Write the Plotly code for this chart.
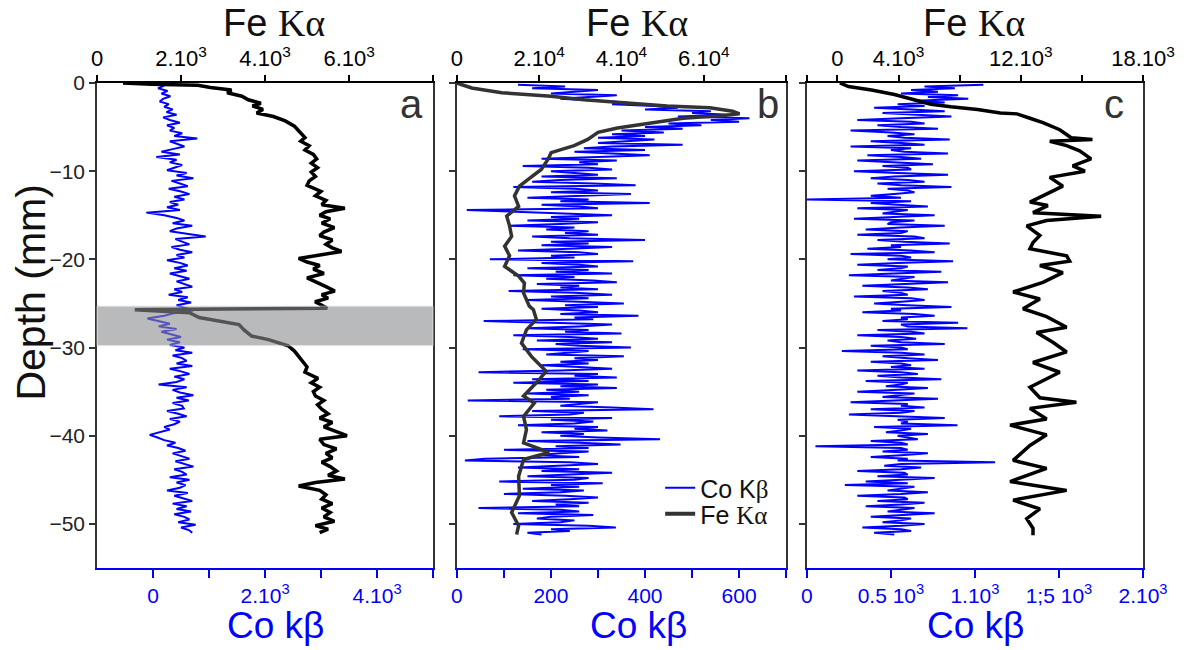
import numpy as np
import plotly.graph_objects as go

# ---------------- data ----------------
# Panel a : Fe K-alpha (top axis) and Co K-beta (bottom axis) versus depth (mm)
fe_a_depth = [0, -0.15, -0.25, -0.5, -0.8, -1.1, -1.5, -1.9, -2.3, -2.6, -3.0, -3.4, -3.8, -4.3, -4.9,
              -5.6, -6.2, -6.6, -7.1, -7.6, -8.1, -8.6, -9.1, -9.6, -10.1, -10.6, -11.1, -11.6, -12.3,
              -12.8, -13.3, -13.8, -14.2, -14.6, -15.0, -15.4, -15.9, -16.4, -16.9, -17.3, -17.8, -18.3,
              -18.7, -19.1, -19.5, -19.9, -20.3, -20.7, -21.1, -21.6, -22.1, -22.6, -23.1, -23.6, -24.0,
              -24.4, -24.8, -25.2, -25.55, -25.7, -26.05, -26.6, -27.0, -27.4, -28.0, -28.7, -29.1, -29.6,
              -29.8, -30.4, -31.0, -31.6, -32.2, -32.8, -33.5, -34.0, -34.5, -35.0, -35.5, -36.0, -36.5,
              -37.0, -37.5, -38.0, -38.5, -39.0, -39.5, -40.0, -40.4, -41.0, -41.5, -42.0, -42.5, -43.0,
              -43.5, -44.0, -44.5, -44.9, -45.3, -45.7, -46.2, -46.7, -47.2, -47.7, -48.2, -48.7, -49.2,
              -49.7, -50.2, -50.6, -51.0]
fe_a = [620, 1300, 2400, 2700, 3200, 3100, 3450, 3600, 3900, 3700, 3950, 3800, 4200, 4480, 4700,
        4850, 4950, 4850, 5050, 4950, 5150, 5230, 5100, 5250, 5100, 5200, 5050, 5000, 5330,
        5200, 5450, 5350, 5900, 5450, 5300, 5550, 5350, 5650, 5400, 5300, 5600, 5450,
        5600, 5820, 5300, 4800, 5000, 5300, 5150, 5400, 5000, 5250, 5450, 5660, 5350,
        5500, 5190, 5350, 5480, 900, 2200, 2430, 2900, 3380, 3500, 3680, 4080, 4390,
        4550, 4700, 4800, 4900, 5000, 4950, 5260, 5100, 5300, 5150, 5200, 5400, 5250,
        5350, 5500, 5300, 5600, 5400, 5700, 5950, 5300, 5400, 5700, 5450, 5600, 5350,
        5550, 5700, 5500, 5900, 5200, 4800, 5300, 5450, 5350, 5600, 5350, 5550, 5400,
        5650, 5200, 5500, 5300]

co_a_depth = list(np.round(np.arange(0, -51.01, -0.3), 2))
co_a = [0, 200, 90, 260, 150, 310, 180, 120, 280, 200,
        350, 240, 420, 180, 300, 480, 250, 380, 300, 520,
        380, 790, 300, 440, 560, 350, 150, 480, 60, 420,
        300, 520, 380, 250, 600, 420, 720, 330, 480, 620,
        280, 500, 650, 380, 560, 300, 450, 250, 480, -120,
        200, 420, 560, 350, 700, 420, 300, 620, 940, 400,
        520, 650, 330, 480, 700, 420, 560, 250, 480, 620,
        380, 600, 300, 480, 650, 420, 560, 700, 380, 520,
        280, 620, 450, 680, 420, 560, 720, 380, 200, -100,
        120, 300, 100, 420, 150, 350, 500, 250, 480, 300,
        560, 400, 700, 350, 520, 600, 420, 700, 300, 500,
        650, 380, 560, 420, 100, 600, 350, 480, 720, 420,
        640, 350, 520, 550, 250, 450, 600, 300, 480, 380,
        200, 300, 100, -60, 80, 200, 400, 250, 450, 580,
        350, 520, 650, 400, 560, 720, 380, 520, 600, 300,
        650, 420, 580, 480, 250, 620, 380, 520, 700, 350,
        600, 420, 680, 380, 560, 650, 450, 760, 500, 640,
        700]

# Panel b
fe_b_depth = [0, -0.57, -1.1, -1.5, -1.9, -2.3, -2.6, -2.8, -3.2, -3.5, -3.7, -4.0, -4.5, -5.1, -5.6,
              -6.4, -7.1, -7.9, -8.6, -9.8, -10.9, -11.7, -12.8, -14.0, -15.1, -16.2, -17.4, -18.5,
              -19.6, -20.8, -21.9, -22.7, -23.8, -25.3, -25.7, -26.8, -28.0, -29.5, -31.0, -32.7,
              -34.0, -35.5, -36.3, -37.8, -39.3, -40.8, -41.9, -42.7, -44.6, -46.8, -48.7, -50.2, -51.2]
fe_b = [0, 3600, 10900, 22900, 30900, 42900, 51100, 61500, 67000, 68700, 64600, 55000, 47000, 39000, 34300,
        31800, 28500, 22900, 22200, 20500, 17400, 15200, 14000, 15000, 12100, 12800, 13300, 11600,
        12800, 11600, 15000, 16400, 16200, 17600, 18600, 19300, 16900, 15700, 18100, 21700,
        19300, 16200, 18800, 16200, 16900, 16200, 22400, 16200, 15000, 15200, 13300, 15000, 14500]

co_b_depth = list(np.round(np.arange(-0.2, -51.21, -0.2), 2))
co_b = [130, 230, 160, 300, 250, 200, 340, 280, 220, 300, 360, 330, 420, 470, 400, 540,
        500, 580, 470, 622, 540, 600, 450, 520, 400, 480, 350, 440, 330, 400, 300, 420,
        360, 300, 480, 330, 270, 400, 250, 350, 410, 300, 180, 340, 260, 300, 140, 280,
        330, 200, 260, 300, 180, 340, 220, 160, 290, 380, 120, 250, 300, 200, 370, 240,
        150, 280, 220, 410, 180, 260, 300, 21, 120, 250, 330, 200, 260, 150, 300, 220,
        110, 250, 190, 280, 230, 300, 160, 240, 400, 200, 280, 180, 330, 240, 130, 260,
        300, 200, 250, 70, 375, 180, 260, 300, 150, 280, 210, 330, 120, 250, 190, 290,
        340, 170, 260, 220, 300, 110, 250, 330, 200, 280, 150, 260, 355, 230, 300, 180,
        260, 300, 220, 386, 250, 290, 57, 200, 330, 260, 150, 280, 230, 350, 120, 240,
        300, 170, 330, 210, 260, 370, 140, 280, 230, 190, 355, 250, 300, 220, 280, 180,
        260, 330, 220, 46, 300, 250, 340, 160, 280, 120, 300, 220, 340, 190, 260, 150,
        280, 200, 240, 23, 300, 260, 220, 330, 418, 160, 270, 240, 90, 330, 200, 290,
        250, 130, 300, 250, 320, 180, 270, 220, 300, 432, 150, 260, 348, 210, 280, 100,
        280, 220, 170, 260, 60, 17, 240, 300, 200, 130, 260, 180, 330, 220, 150, 280,
        250, 90, 310, 200, 260, 140, 270, 220, 100, 230, 300, 240, 160, 280, 210, 260,
        46, 220, 260, 130, 290, 200, 170, 250, 220, 120, 280, 338, 200, 240, 150, 180]

# Panel c
fe_c_depth = [0, -0.4, -0.8, -1.3, -1.9, -2.4, -2.7, -3.0, -3.4, -3.5, -4.0, -4.5, -5.3, -5.9, -6.2,
              -6.4, -6.6, -7.1, -7.7, -8.6, -9.4, -10.0, -10.7, -11.7, -12.6, -13.5, -13.9, -14.7,
              -15.1, -15.6, -16.2, -17.3, -18.1, -18.8, -19.6, -20.2, -20.7, -21.5, -22.6, -23.7,
              -24.5, -25.6, -26.5, -27.7, -28.3, -29.4, -30.5, -31.7, -32.8, -34.5, -35.7, -36.2,
              -36.9, -38.1, -38.8, -39.9, -41.1, -42.8, -43.7, -45.2, -46.2, -47.3, -48.3, -49.4,
              -50.5, -51.3]
fe_c = [160, 720, 2230, 3730, 5020, 6120, 7420, 9170, 10660, 11750, 12600, 13450, 14550, 14990, 15300,
        16690, 13900, 15000, 15850, 16600, 15400, 16200, 13900, 14750, 13690, 12600, 13770, 12800,
        17260, 13690, 12390, 13250, 12800, 12600, 15000, 15200, 13250, 14750, 13450, 11500,
        13250, 12150, 13690, 15000, 13040, 14100, 15000, 12800, 14550, 12600, 13250, 15640,
        12600, 13690, 11300, 13690, 12600, 11500, 13690, 11300, 15000, 11500, 13250, 12390,
        12800, 12800]

co_c_depth = list(np.round(np.arange(-0.2, -51.21, -0.2), 2))
co_c = [1050, 700, 880, 620, 780, 560, 900, 720, 960, 640, 820, 540, 700, 400, 620, 820,
        450, 700, 860, 560, 300, 620, 700, 420, 560, 780, 260, 500, 640, 480, 580, 850,
        380, 560, 700, 260, 620, 500, 580, 840, 360, 560, 680, 300, 520, 750, 450, 600,
        620, 280, 540, 840, 520, 380, 600, 700, 420, 560, 860, 480, 600, 640, 520, 380,
        560, 0, 620, 380, 540, 720, 300, 600, 520, 450, 760, 560, 280, 640, 500, 480,
        820, 560, 350, 600, 560, 300, 640, 700, 420, 580, 850, 500, 560, 360, 620, 760,
        260, 560, 620, 480, 870, 540, 300, 600, 560, 420, 800, 520, 250, 640, 560, 500,
        840, 580, 330, 600, 720, 450, 560, 600, 280, 620, 700, 560, 400, 600, 860, 500,
        560, 330, 640, 760, 560, 600, 450, 900, 560, 600, 955, 420, 620, 700, 300, 560,
        650, 480, 560, 820, 380, 560, 600, 208, 560, 700, 450, 600, 780, 380, 560, 620,
        500, 700, 300, 560, 660, 420, 560, 800, 350, 600, 560, 470, 720, 540, 300, 640,
        560, 450, 780, 560, 260, 600, 560, 700, 380, 640, 560, 250, 600, 820, 540, 600,
        560, 896, 400, 620, 560, 470, 720, 540, 600, 660, 380, 560, 600, 51, 560, 600,
        450, 720, 560, 380, 600, 540, 1120, 560, 460, 680, 560, 300, 580, 600, 420, 760,
        560, 350, 600, 226, 640, 560, 480, 720, 560, 300, 580, 600, 420, 700, 560, 350,
        640, 560, 480, 760, 560, 380, 620, 560, 450, 700, 560, 330, 560, 620, 400, 520]

band_depth = [-25.3, -29.8]

# ---------------- style ----------------
SANS = "Liberation Sans, Arial, sans-serif"
BLUE = "#0000ff"

fig = go.Figure()

def blue(x, y, xa, ya):
    fig.add_trace(go.Scatter(x=x, y=y, xaxis=xa, yaxis=ya, mode="lines",
                             line=dict(color=BLUE, width=2), showlegend=False, hoverinfo="skip"))

def black(x, y, xa, ya, color="#000000"):
    fig.add_trace(go.Scatter(x=x, y=y, xaxis=xa, yaxis=ya, mode="lines",
                             line=dict(color=color, width=3.5), showlegend=False, hoverinfo="skip"))

blue(co_a, co_a_depth, "x", "y")
black(fe_a, fe_a_depth, "x2", "y")
blue(co_b, co_b_depth, "x3", "y2")
black(fe_b, fe_b_depth, "x4", "y2", "#333333")
blue(co_c, co_c_depth, "x5", "y3")
black(fe_c, fe_c_depth, "x6", "y3")

# legend entries (two single-item legends so their spacing can match)
fig.add_trace(go.Scatter(x=[None], y=[None], xaxis="x3", yaxis="y2", mode="lines",
                         line=dict(color=BLUE, width=2), legend="legend",
                         name="Co K<span style=\"font-family:'Liberation Serif'\">β</span>"))
fig.add_trace(go.Scatter(x=[None], y=[None], xaxis="x3", yaxis="y2", mode="lines",
                         line=dict(color="#333333", width=4), legend="legend2",
                         name="Fe <span style=\"font-family:'Liberation Serif'\">Kα</span>"))

# full-window figure (page body margin removed below); plot area 97..1152 x 83..568
W, H = 1187, 650
PL, PR, PT, PB = 97, 1152, 83, 568
L, T, R, B = PL, PT, W - PR, H - PB
pw = PR - PL
ph = PB - PT

def px(x):
    return (x - PL) / pw

def py(y):
    return (PB - y) / ph

dom_a = [0, px(436)]
dom_b = [px(460), px(792)]
dom_c = [px(813), 1]

yrange = [-55, 0]
ytick = dict(tickvals=[0, -10, -20, -30, -40, -50], ticks="outside", ticklen=6, tickwidth=1.5,
             tickcolor="#333", showline=True, linecolor="#333", linewidth=1.5, mirror=True,
             range=yrange, showgrid=False, zeroline=False)

sup3 = "<sup>3</sup>"
sup4 = "<sup>4</sup>"

def top_axis(dom, rng, vals, texts, anchor, overlay):
    return dict(domain=dom, range=rng, side="top", overlaying=overlay, anchor=anchor,
                tickvals=vals, ticktext=texts, ticks="outside", ticklen=6, tickwidth=1.5,
                tickcolor="#000", showline=True, linecolor="#000", linewidth=1.5,
                showgrid=False, zeroline=False, tickfont=dict(family=SANS, size=22, color="#000"))

def bot_axis(dom, rng, vals, texts, anchor):
    return dict(domain=dom, range=rng, side="bottom", anchor=anchor,
                tickvals=vals, ticktext=texts, ticks="outside", ticklen=8, tickwidth=1.5,
                tickcolor=BLUE, showline=True, linecolor=BLUE, linewidth=2,
                showgrid=False, zeroline=False, tickfont=dict(family=SANS, size=21, color=BLUE))

leg_common = dict(xanchor="left", yanchor="middle", bgcolor="rgba(0,0,0,0)",
                  font=dict(family=SANS, size=25, color="#111"), borderwidth=0)

fig.update_layout(
    width=W, height=H,
    margin=dict(l=L, r=R, t=T, b=B),
    paper_bgcolor="white", plot_bgcolor="white",
    font=dict(family=SANS, color="#222"),
    xaxis=bot_axis(dom_a, [-1000, 5000], [0, 1000, 2000, 3000, 4000, 5000],
                   ["0", "", "2.10" + sup3, "", "4.10" + sup3, ""], "y"),
    xaxis2=top_axis(dom_a, [0, 8000], [0, 2000, 4000, 6000, 8000],
                    ["0", "2.10" + sup3, "4.10" + sup3, "6.10" + sup3, ""], "y", "x"),
    xaxis3=bot_axis(dom_b, [0, 700], [0, 100, 200, 300, 400, 500, 600, 700],
                    ["0", "", "200", "", "400", "", "600", ""], "y2"),
    xaxis4=top_axis(dom_b, [0, 80000], [0, 20000, 40000, 60000, 80000],
                    ["0", "2.10" + sup4, "4.10" + sup4, "6.10" + sup4, ""], "y2", "x3"),
    xaxis5=bot_axis(dom_c, [0, 2000], [0, 500, 1000, 1500, 2000],
                    ["0", "0.5 10" + sup3, "1.10" + sup3, "1;5 10" + sup3, "2.10" + sup3], "y3"),
    xaxis6=top_axis(dom_c, [-2000, 20000], [-2000, 0, 4000, 8000, 12000, 16000, 20000],
                    ["", "0", "4.10" + sup3, "", "12.10" + sup3, "", "18.10" + sup3], "y3", "x5"),
    yaxis=dict(anchor="x", domain=[0, 1], showticklabels=True,
               tickfont=dict(family=SANS, size=21, color="#222"), **ytick),
    yaxis2=dict(anchor="x3", domain=[0, 1], showticklabels=False, **ytick),
    yaxis3=dict(anchor="x5", domain=[0, 1], showticklabels=False, **ytick),
    legend=dict(x=px(665), y=py(488), **leg_common),
    legend2=dict(x=px(665), y=py(514), **leg_common),
    showlegend=True,
)

# shaded band in panel a
fig.add_shape(type="rect", xref="x domain", yref="y", x0=0, x1=1,
              y0=band_depth[0], y1=band_depth[1], layer="above",
              fillcolor="rgb(140,141,143)", opacity=0.6, line=dict(color="#e0e0e0", width=1))

def ann(text, x, y, size, color="#111", angle=0):
    fig.add_annotation(text=text, x=px(x), y=py(y), xref="paper", yref="paper",
                       showarrow=False, xanchor="center", yanchor="middle",
                       font=dict(family=SANS, size=size, color=color), textangle=angle)

fe_title = "Fe <span style=\"font-family:'Liberation Serif'\">Kα</span>"
for cx in (276, 642, 982):
    ann(fe_title, cx, 23, 38, "#111")
for cx in (277, 643, 983):
    ann("Co kβ", cx, 625, 37, BLUE)
ann("Depth (mm)", 30, 293, 41, "#111", angle=-90)
ann("a", 414, 104, 40, "#333")
ann("b", 774, 104, 40, "#333")
ann("c", 1123, 104, 40, "#333")

fig.write_html("out.html",
               config={"displayModeBar": False},
               post_script="document.body.style.margin='0px';"
                           "document.body.style.overflow='hidden';")
